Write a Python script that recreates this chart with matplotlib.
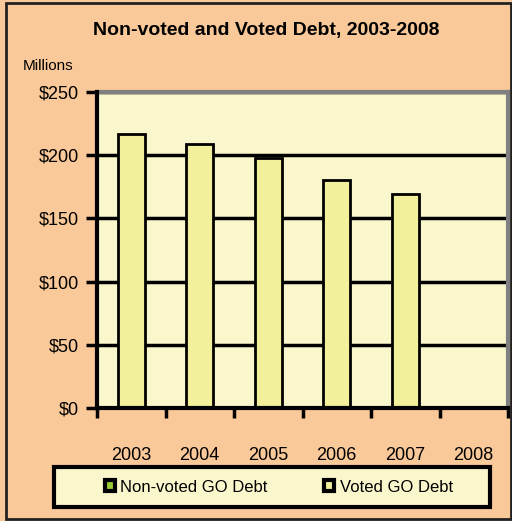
import matplotlib.pyplot as plt
import matplotlib.patches as mpatches
import numpy as np

years = ["2003", "2004", "2005", "2006", "2007", "2008"]
non_voted = [0, 0, 0, 0, 0, 0]
voted = [217, 209, 198, 180, 169, 0]

plt.rcParams["font.family"] = ["Liberation Sans", "DejaVu Sans"]

W, H = 512, 521
figure = plt.figure(figsize=(W / 100, H / 100), dpi=100)
figure.patch.set_facecolor("#FAC999")

# outer chart border
figure.patches.append(mpatches.Rectangle(
    (6 / W, 2 / H), 505 / W, 516 / H, transform=figure.transFigure,
    fill=False, edgecolor="#222222", linewidth=2))

# legend box
figure.patches.append(mpatches.Rectangle(
    (54 / W, (H - 507) / H), 436 / W, 40 / H, transform=figure.transFigure,
    facecolor="#FBF7CD", edgecolor="black", linewidth=3))

axes = figure.add_axes([97 / W, (H - 408) / H, 411 / W, 316 / H])
axes.set_facecolor("#FBF7CD")

x = np.arange(len(years))
axes.bar(x, non_voted, width=0.4, color="#99CC33", edgecolor="black",
         linewidth=2, zorder=3, label="Non-voted GO Debt")
axes.bar(x, voted, width=0.4, bottom=non_voted, color="#F2F09A",
         edgecolor="black", linewidth=2, zorder=3, label="Voted GO Debt")

axes.set_xlim(-0.5, len(years) - 0.5)
axes.set_ylim(0, 250)
axes.set_yticks(range(0, 251, 50))
axes.set_yticklabels([f"${v}" for v in range(0, 251, 50)], fontsize=13)
axes.yaxis.grid(True, color="black", linewidth=2.5, zorder=1)
axes.set_axisbelow(True)

axes.set_xticks(x)
axes.set_xticklabels(years, fontsize=13)
axes.set_xticks(np.arange(-0.5, len(years)), minor=True)
axes.tick_params(axis="x", which="major", length=0, pad=28)
axes.tick_params(axis="x", which="minor", length=7, width=2.5, direction="out")
axes.tick_params(axis="y", length=8, width=2.5, direction="out", pad=5)

for side in ["left", "bottom"]:
    axes.spines[side].set_linewidth(3)
    axes.spines[side].set_color("black")
    axes.spines[side].set_zorder(4)
for side in ["top", "right"]:
    axes.spines[side].set_linewidth(3)
    axes.spines[side].set_color("#808080")

figure.text(266 / W, 1 - 30 / H, "Non-voted and Voted Debt, 2003-2008",
            ha="center", va="center", fontsize=14, fontweight="bold")
figure.text(48 / W, 1 - 66 / H, "Millions", ha="center", va="center", fontsize=11)

handles = [
    mpatches.Patch(facecolor="#99CC33", edgecolor="black", linewidth=3, label="Non-voted GO Debt"),
    mpatches.Patch(facecolor="#F2F09A", edgecolor="black", linewidth=3, label="Voted GO Debt"),
]
legend = figure.legend(
    handles=handles, loc="center", ncol=2, bbox_to_anchor=(279 / W, 1 - 487 / H),
    fontsize=12, handlelength=0.6, handleheight=0.6, handletextpad=0.35,
    frameon=False, columnspacing=3.4)

figure.savefig("out.png", dpi=100, facecolor=figure.get_facecolor())
